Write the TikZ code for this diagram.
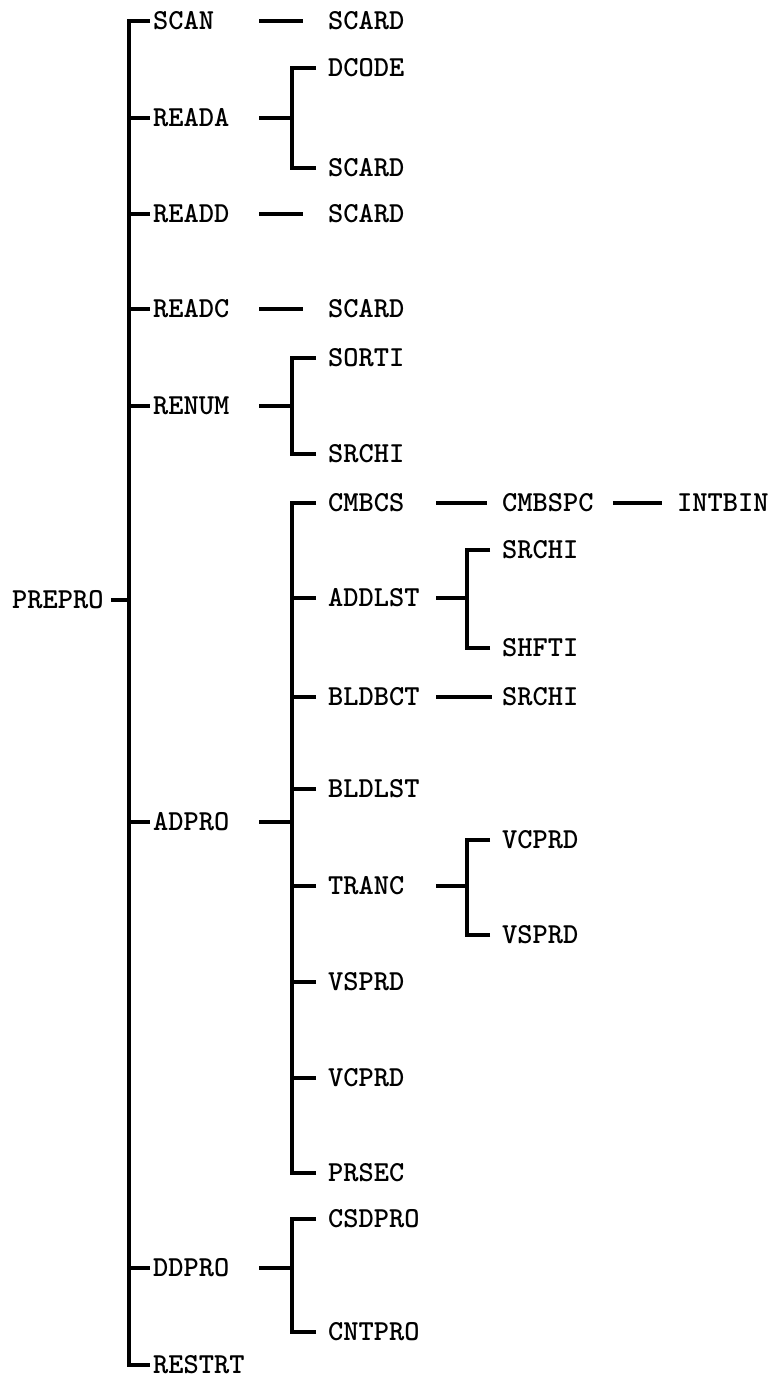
\documentclass[tikz,border=0pt]{standalone}
\usetikzlibrary{positioning}
\begin{document}
\begin{tikzpicture}[x=1pt,y=-1pt,ln/.style={line width=4.5pt},
	lbl/.style={anchor=west,inner sep=0pt,font=\ttfamily\bfseries\fontsize{29}{29}\selectfont}]
	\useasboundingbox (0,0) rectangle (774,1382);
	% columns of the dashes and trunks
	\coordinate (c1) at (259,0);
	\coordinate (c2) at (436,0);
	\coordinate (j1) at (129,600);
	
	\node[lbl] (prepro) at (12,600) {PREPRO};
	\foreach \nm/\txt/\yy in {scan/SCAN/21,reada/READA/118,readd/READD/214,readc/READC/309,renum/RENUM/406,adpro/ADPRO/822,ddpro/DDPRO/1268,restrt/RESTRT/1365}
	\node[lbl] (\nm) at (153,\yy) {\txt};
	\foreach \nm/\txt/\yy in {scard1/SCARD/21,dcode/DCODE/68,scard2/SCARD/168,scard3/SCARD/214,scard4/SCARD/309,sorti/SORTI/358,srchi1/SRCHI/454,cmbcs/CMBCS/503,addlst/ADDLST/598,bldbct/BLDBCT/697,bldlst/BLDLST/789,tranc/TRANC/886,vsprd1/VSPRD/982,vcprd1/VCPRD/1078,prsec/PRSEC/1173,csdpro/CSDPRO/1219,cntpro/CNTPRO/1332}
	\node[lbl] (\nm) at (328,\yy) {\txt};
	\foreach \nm/\txt/\yy in {cmbspc/CMBSPC/503,srchi2/SRCHI/550,shfti/SHFTI/648,srchi3/SRCHI/697,vcprd2/VCPRD/840,vsprd2/VSPRD/935}
	\node[lbl] (\nm) at (502,\yy) {\txt};
	\node[lbl] (intbin) at (677,503) {INTBIN};
	
	% main trunk
	\draw[ln] ([xshift=7pt]prepro.east) -- (j1);
	\foreach \n in {scan,reada,readd,readc,renum,adpro,ddpro,restrt}
	\draw[ln] ([xshift=-3pt]\n.west) -| (j1);
	
	% single calls
	\foreach \p/\c in {scan/scard1,readd/scard3,readc/scard4}
	\draw[ln] (c1 |- \p) -- ([xshift=-25pt]\c.west);
	\draw[ln] (c2 |- cmbcs) -- ([xshift=-15pt]cmbspc.west);
	\draw[ln] ([xshift=19pt]cmbspc.east) -- ([xshift=-15pt]intbin.west);
	\draw[ln] (c2 |- bldbct) -- ([xshift=-10pt]srchi3.west);
	
	% branches
	\foreach \p/\col/\xx/\kids in {reada/c1/292/{dcode,scard2},renum/c1/292/{sorti,srchi1},adpro/c1/292/{cmbcs,addlst,bldbct,bldlst,tranc,vsprd1,vcprd1,prsec},ddpro/c1/292/{csdpro,cntpro},addlst/c2/467/{srchi2,shfti},tranc/c2/467/{vcprd2,vsprd2}}{
		\coordinate (j) at (\xx,0 |- \p);
		\draw[ln] (\col |- \p) -- (j);
		\foreach \c in \kids
		\draw[ln] ([xshift=-12pt]\c.west) -| (j);
	}
\end{tikzpicture}
\end{document}
